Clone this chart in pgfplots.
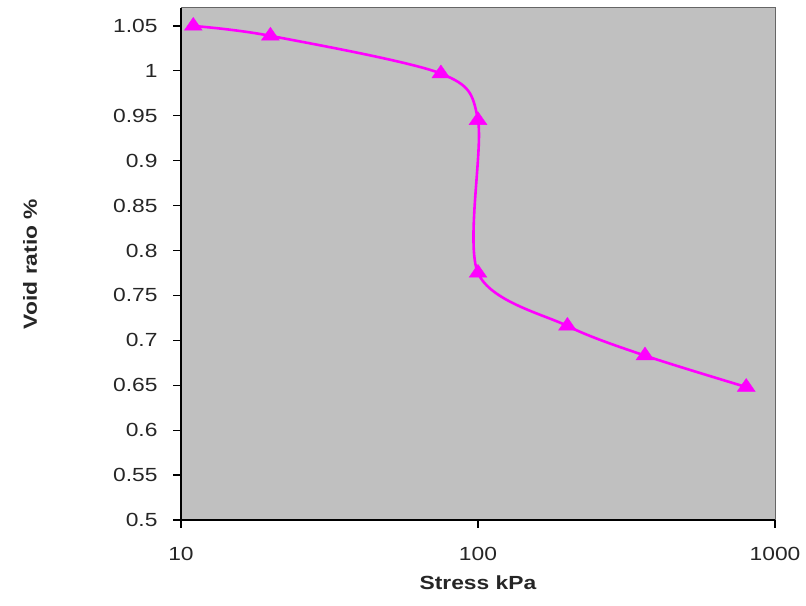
\documentclass[border=0pt]{standalone}
\usepackage{pgfplots}
\pgfplotsset{compat=1.18}
\usepackage{fontspec}
\setmainfont{Liberation Sans}[FakeStretch=1.2]
\definecolor{plotgray}{RGB}{192,192,192}
\definecolor{mag}{RGB}{255,0,255}
\begin{document}
\begin{tikzpicture}
\begin{axis}[
  name=ax,
  scale only axis,
  width=594pt, height=512pt,
  xmode=log,
  xmin=10, xmax=1000,
  ymin=0.5, ymax=1.07,
  xtick={10,100,1000},
  xticklabels={10,100,1000},
  xminorticks=false,
  ytick={0.5,0.55,0.6,0.65,0.7,0.75,0.8,0.85,0.9,0.95,1,1.05},
  yticklabels={0.5,0.55,0.6,0.65,0.7,0.75,0.8,0.85,0.9,0.95,1,1.05},
  axis x line*=bottom,
  axis y line*=left,
  axis line style={black, line width=1.6pt, -},
  tick style={black, line width=1.2pt},
  major tick length=8pt,
  tick align=outside,
  axis background/.style={fill=plotgray, draw=gray!80!black, line width=1pt},
  tick label style={font=\fontsize{19}{22}\selectfont, text=black!85},
  yticklabel style={xshift=-12pt},
  xticklabel style={yshift=-16pt},
  /pgf/number format/assume math mode=true,
  xlabel={\textbf{Stress kPa}},
  ylabel={\textbf{Void ratio \%}},
  every axis x label/.style={at={(axis description cs:0.5,-0.123)}, anchor=center, font=\fontsize{19}{22}\selectfont, text=black!85},
  every axis y label/.style={at={(axis description cs:-0.254,0.5)}, anchor=center, rotate=90, font=\fontsize{19}{22}\selectfont, text=black!85},
]
\addplot[mag, line width=2.6pt, smooth, mark=triangle*, mark size=8.5pt, mark options={fill=mag, draw=mag, line width=0.5pt, xscale=1.2}]
coordinates {
(11,1.05)
(20,1.039)
(75,0.997)
(100,0.945)
(100,0.775)
(200,0.716)
(365,0.683)
(800,0.648)
};
\end{axis}
\pgfresetboundingbox
\path[use as bounding box] ([xshift=-181pt,yshift=-86pt]ax.south west) rectangle ([xshift=31pt,yshift=8pt]ax.north east);
\end{tikzpicture}
\end{document}
